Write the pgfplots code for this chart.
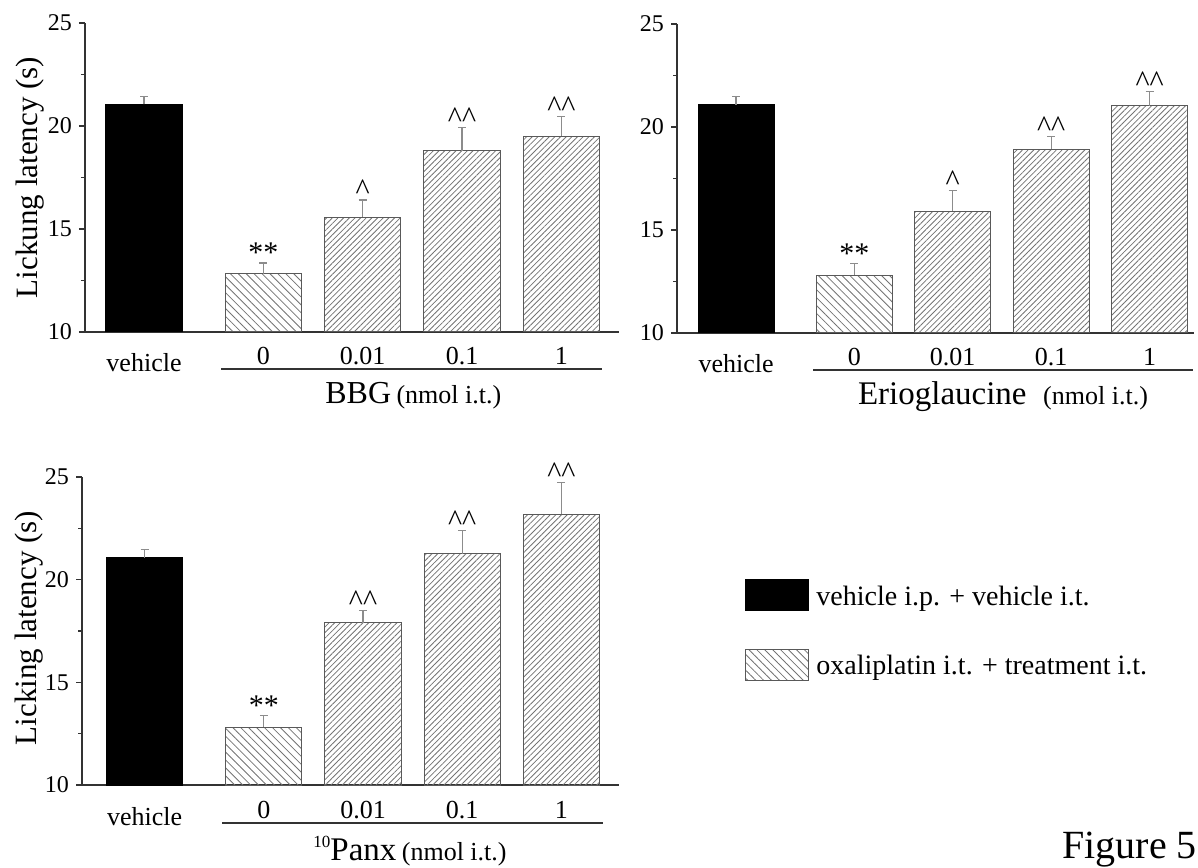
\documentclass[border=0pt]{standalone}
\usepackage{fontspec}
\setmainfont{Liberation Serif}
\usepackage{pgfplots}
\pgfplotsset{compat=1.18}
\usetikzlibrary{patterns.meta}

\definecolor{hatch}{gray}{0.45}
\definecolor{edge}{gray}{0.35}
\definecolor{axisc}{gray}{0.2}
\definecolor{errc}{gray}{0.55}

\tikzset{ann/.style={anchor=base, inner sep=0pt, font=\fontsize{15}{15}\selectfont}}

\pgfplotsset{
 panel/.style={
  scale only axis,
  anchor=south west,
  axis lines*=left,
  axis line style={axisc, line width=0.8pt},
  ymin=10, ymax=25,
  ytick={10,15,20,25},
  minor y tick num=1,
  tick align=outside,
  major tick length=3pt,
  minor tick length=2pt,
  every tick/.style={axisc, line width=0.6pt},
  yticklabel style={font=\fontsize{12}{14}\selectfont},
  /pgf/number format/assume math mode=true,
  xtick={0,1.2,2.2,3.2,4.2},
  xticklabels={\raisebox{-3.5pt}{vehicle},0,0.01,0.1,1},
  x tick style={draw=none},
  xticklabel style={anchor=base, yshift=-13.5pt, font=\fontsize{13}{15}\selectfont},
  ybar, bar shift=0pt, bar width=0.77,
  clip mode=individual,
  error bars/y dir=plus, error bars/y explicit,
  error bars/error bar style={errc, line width=0.6pt},
  error bars/error mark options={rotate=90, mark size=2pt, errc, line width=0.6pt},
 },
 vehbar/.style={fill=black, draw=black, line width=0.5pt},
 zerobar/.style={draw=edge, line width=0.5pt, pattern={Lines[angle=-45,distance=2.8pt,line width=0.4pt]}, pattern color=hatch},
 treatbar/.style={draw=edge, line width=0.5pt, pattern={Lines[angle=45,distance=2.0pt,line width=0.4pt]}, pattern color=hatch},
}
\newcommand{\car}{\textasciicircum}

\begin{document}
\begin{tikzpicture}
\path[use as bounding box] (0,0) rectangle (599pt,433.5pt);

% Panel 1: BBG
\begin{axis}[panel, at={(42.5pt,267.5pt)}, width=267pt, height=154.5pt, xmin=-0.594, xmax=4.78]
\addplot[vehbar] coordinates {(0,21.05) +- (0,0.40)};
\addplot[zerobar] coordinates {(1.2,12.82) +- (0,0.53)};
\addplot[treatbar] coordinates {(2.2,15.58) +- (0,0.83) (3.2,18.80) +- (0,1.14) (4.2,19.51) +- (0,0.94)};
\node[ann] at (axis cs:1.2,13.35) {**};
\node[ann] at (axis cs:2.2,16.41) {\car};
\node[ann] at (axis cs:3.2,19.94) {\car\car};
\node[ann] at (axis cs:4.2,20.45) {\car\car};
\end{axis}

% Panel 2: Erioglaucine
\begin{axis}[panel, at={(338.5pt,267pt)}, width=258.5pt, height=154.5pt, xmin=-0.60, xmax=4.65]
\addplot[vehbar] coordinates {(0,21.07) +- (0,0.41)};
\addplot[zerobar] coordinates {(1.2,12.81) +- (0,0.58)};
\addplot[treatbar] coordinates {(2.2,15.91) +- (0,1.02) (3.2,18.92) +- (0,0.63) (4.2,21.02) +- (0,0.72)};
\node[ann] at (axis cs:1.2,13.39) {**};
\node[ann] at (axis cs:2.2,16.93) {\car};
\node[ann] at (axis cs:3.2,19.55) {\car\car};
\node[ann] at (axis cs:4.2,21.74) {\car\car};
\end{axis}

% Panel 3: 10Panx
\begin{axis}[panel, at={(41pt,41pt)}, width=268.5pt, height=154pt, xmin=-0.632, xmax=4.78,
  legend style={at={(axis description cs:1.2346,0.6688)}, anchor=north west, draw=none, fill=none,
    inner sep=0pt, row sep=18.75pt, column sep=3.5pt,
    nodes={inner sep=0pt}},
  legend cell align=left]
\addplot[vehbar, legend image code/.code={\draw[fill=black,draw=black] (0pt,-7pt) rectangle (31.5pt,8.5pt);}] coordinates {(0,21.06) +- (0,0.42)};
\addlegendentry{\fontsize{14}{16}\selectfont vehicle i.p. + vehicle i.t.}
\addplot[zerobar, legend image code/.code={\draw[draw=edge, line width=0.5pt, pattern={Lines[angle=-45,distance=2.8pt,line width=0.4pt]}, pattern color=hatch] (0pt,-7pt) rectangle (31.5pt,8.5pt);}] coordinates {(1.2,12.82) +- (0,0.57)};
\addlegendentry{\fontsize{14}{16}\selectfont oxaliplatin i.t. + treatment i.t.}
\addplot[treatbar, forget plot] coordinates {(2.2,17.90) +- (0,0.60) (3.2,21.27) +- (0,1.13) (4.2,23.18) +- (0,1.54)};
\node[ann] at (axis cs:1.2,13.39) {**};
\node[ann] at (axis cs:2.2,18.50) {\car\car};
\node[ann] at (axis cs:3.2,22.40) {\car\car};
\node[ann] at (axis cs:4.2,24.72) {\car\car};
\end{axis}

% y labels
\node[rotate=90, font=\fontsize{15.5}{16}\selectfont] at (15pt,344.75pt) {Lickung latency (s)};
\node[rotate=90, font=\fontsize{15.5}{16}\selectfont] at (14.5pt,119.5pt) {Licking latency (s)};

% group underlines and labels
\draw[axisc, line width=0.7pt] (110.5pt,249pt) -- (301pt,249pt);
\node[anchor=base west, inner sep=0pt] at (162.5pt,231.5pt) {\fontsize{16}{18}\selectfont BBG\,\fontsize{13}{15}\selectfont(nmol i.t.)};
\draw[axisc, line width=0.7pt] (406.5pt,248.5pt) -- (596.5pt,248.5pt);
\node[anchor=base west, inner sep=0pt, font=\fontsize{16.5}{18}\selectfont] at (428.8pt,231pt) {Erioglaucine};
\node[anchor=base west, inner sep=0pt, font=\fontsize{13}{15}\selectfont] at (521.4pt,231pt) {(nmol i.t.)};
\draw[axisc, line width=0.7pt] (111pt,22pt) -- (301.5pt,22pt);
\node[anchor=base west, inner sep=0pt] at (156.5pt,3.5pt) {\raisebox{6.5pt}{\fontsize{8.5}{9}\selectfont 10}\fontsize{16.5}{18}\selectfont Panx\,\fontsize{13}{15}\selectfont(nmol i.t.)};

% figure number
\node[anchor=base west, inner sep=0pt, font=\fontsize{20}{22}\selectfont] at (531pt,4.5pt) {Figure 5};
\end{tikzpicture}
\end{document}
